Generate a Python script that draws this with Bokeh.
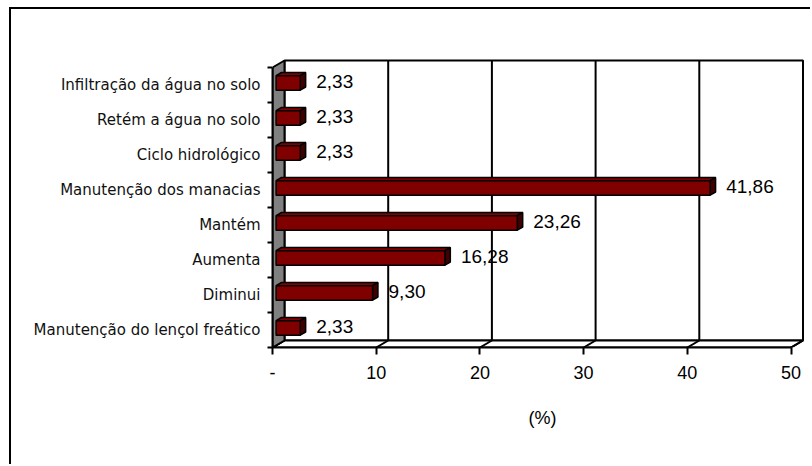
from bokeh.plotting import figure
from bokeh.models import Range1d, LinearAxis, FixedTicker
from bokeh.embed import file_html
from bokeh.resources import INLINE
from bokeh.core.properties import value

# ---- data (bottom to top, as drawn) ----
categories = [
    "Manutenção do lençol freático",
    "Diminui",
    "Aumenta",
    "Mantém",
    "Manutenção dos manacias",
    "Ciclo hidrológico",
    "Retém a água no solo",
    "Infiltração da água no solo",
]
values = [2.33, 9.30, 16.28, 23.26, 41.86, 2.33, 2.33, 2.33]
x_ticks = [0, 10, 20, 30, 40, 50]
x_tick_labels = ["-", "10", "20", "30", "40", "50"]
x_axis_title = "(%)"

# ---- layout constants (pixels) ----
OFF_X, OFF_Y = 11, 9      # figure offset on the page (outer border sits just outside)
W, H = 812 - OFF_X, 466 - OFF_Y
FRAME_LEFT = 261          # canvas px where the value axis starts
FRAME_BOTTOM = 338        # canvas px of the front floor line
PX_X = 10.37              # px per percent
PX_Y = 35.0               # px per category
x_end = (W - FRAME_LEFT) / PX_X
y_end = FRAME_BOTTOM / PX_Y

# 3D depth of the box, in data units
DX = 12 / PX_X
DY = 7 / PX_Y
BF = 0.3      # depth fraction of bar front face
BD = 0.45     # depth fraction of bar thickness
BAR_H = 14.5 / PX_Y

n = len(categories)
xmax = x_ticks[-1]

p = figure(width=W, height=H, x_range=Range1d(0, x_end), y_range=Range1d(0, y_end),
           output_backend="svg", toolbar_location=None,
           x_axis_type=None, y_axis_type=None,
           min_border_left=FRAME_LEFT, min_border_right=0, min_border_top=0,
           min_border_bottom=H - FRAME_BOTTOM)
p.outline_line_color = None
p.background_fill_color = "white"
p.border_fill_color = "white"
# outer chart border: top and left edges (the rest runs off the page, as in the reference)
p.styles = {"margin-left": f"{OFF_X}px", "margin-top": f"{OFF_Y}px",
            "box-shadow": "-2px -2px 0px 0px black"}

# back wall
p.quad(left=[DX], right=[xmax + DX], bottom=[DY], top=[n + DY],
       fill_color="white", line_color="black", line_width=2)
# gridlines on back wall
gx = [t + DX for t in x_ticks[1:-1]]
p.segment(x0=gx, y0=[DY] * len(gx), x1=gx, y1=[n + DY] * len(gx),
          line_color="black", line_width=2)
# floor
p.patch([0, xmax, xmax + DX, DX], [0, 0, DY, DY], fill_color="white",
        line_color="black", line_width=2)
p.segment(x0=x_ticks, y0=[0] * len(x_ticks), x1=[t + DX for t in x_ticks],
          y1=[DY] * len(x_ticks), line_color="black", line_width=2)
# side wall
p.patch([0, DX, DX, 0], [0, DY, n + DY, n], fill_color="#808080",
        line_color="black", line_width=2)

# bars
x0 = BF * DX
ddx, ddy = BD * DX, BD * DY
centers = [i + 0.5 + BF * DY for i in range(n)]
rights = [x0 + v for v in values]
tops = [c + BAR_H / 2 for c in centers]
bots = [c - BAR_H / 2 for c in centers]

top_xs = [[x0, r, r + ddx, x0 + ddx] for r in rights]
top_ys = [[t, t, t + ddy, t + ddy] for t in tops]
p.patches(top_xs, top_ys, fill_color="#800000", line_color="black", line_width=1.5)

side_xs = [[r, r + ddx, r + ddx, r] for r in rights]
side_ys = [[b, b + ddy, t + ddy, t] for b, t in zip(bots, tops)]
p.patches(side_xs, side_ys, fill_color="#400000", line_color="black", line_width=1.5)

p.hbar(y=centers, left=x0, right=rights, height=BAR_H,
       fill_color="#800000", line_color="black", line_width=1.5)

labels = [f"{v:.2f}".replace(".", ",") for v in values]
p.text(x=rights, y=centers, text=labels, x_offset=16, y_offset=-1,
       text_align="left", text_baseline="middle",
       text_font=value("Liberation Sans"), text_font_size="19px", text_color="black")

# category axis
yax = LinearAxis(ticker=FixedTicker(ticks=[i + 0.5 for i in range(n)],
                                    minor_ticks=list(range(n + 1))),
                 major_label_overrides={i + 0.5: c for i, c in enumerate(categories)},
                 bounds=(0, n))
yax.major_tick_line_color = None
yax.major_tick_out = 0
yax.major_tick_in = 0
yax.minor_tick_line_color = "black"
yax.minor_tick_line_width = 2
yax.minor_tick_out = 5
yax.minor_tick_in = 0
yax.axis_line_width = 2
yax.axis_line_color = "black"
yax.major_label_standoff = 7
yax.major_label_text_font = "DejaVu Sans"
yax.major_label_text_font_size = "15px"
yax.major_label_text_color = "#111111"
p.add_layout(yax, "left")

# value axis
xax = LinearAxis(ticker=FixedTicker(ticks=x_ticks),
                 major_label_overrides={t: l for t, l in zip(x_ticks, x_tick_labels)},
                 bounds=(x_ticks[0], x_ticks[-1]), axis_label=x_axis_title)
xax.minor_tick_line_color = None
xax.major_tick_out = 7
xax.major_tick_in = 0
xax.major_tick_line_width = 2
xax.axis_line_width = 2
xax.axis_line_color = "black"
xax.major_label_standoff = 11
xax.major_label_text_font = "Liberation Sans"
xax.major_label_text_font_size = "18px"
xax.major_label_text_color = "black"
xax.axis_label_text_font = "Liberation Sans"
xax.axis_label_text_font_size = "18px"
xax.axis_label_text_font_style = "normal"
xax.axis_label_text_color = "black"
xax.axis_label_standoff = 26
p.add_layout(xax, "below")

open("out.html", "w").write(file_html(p, INLINE))
